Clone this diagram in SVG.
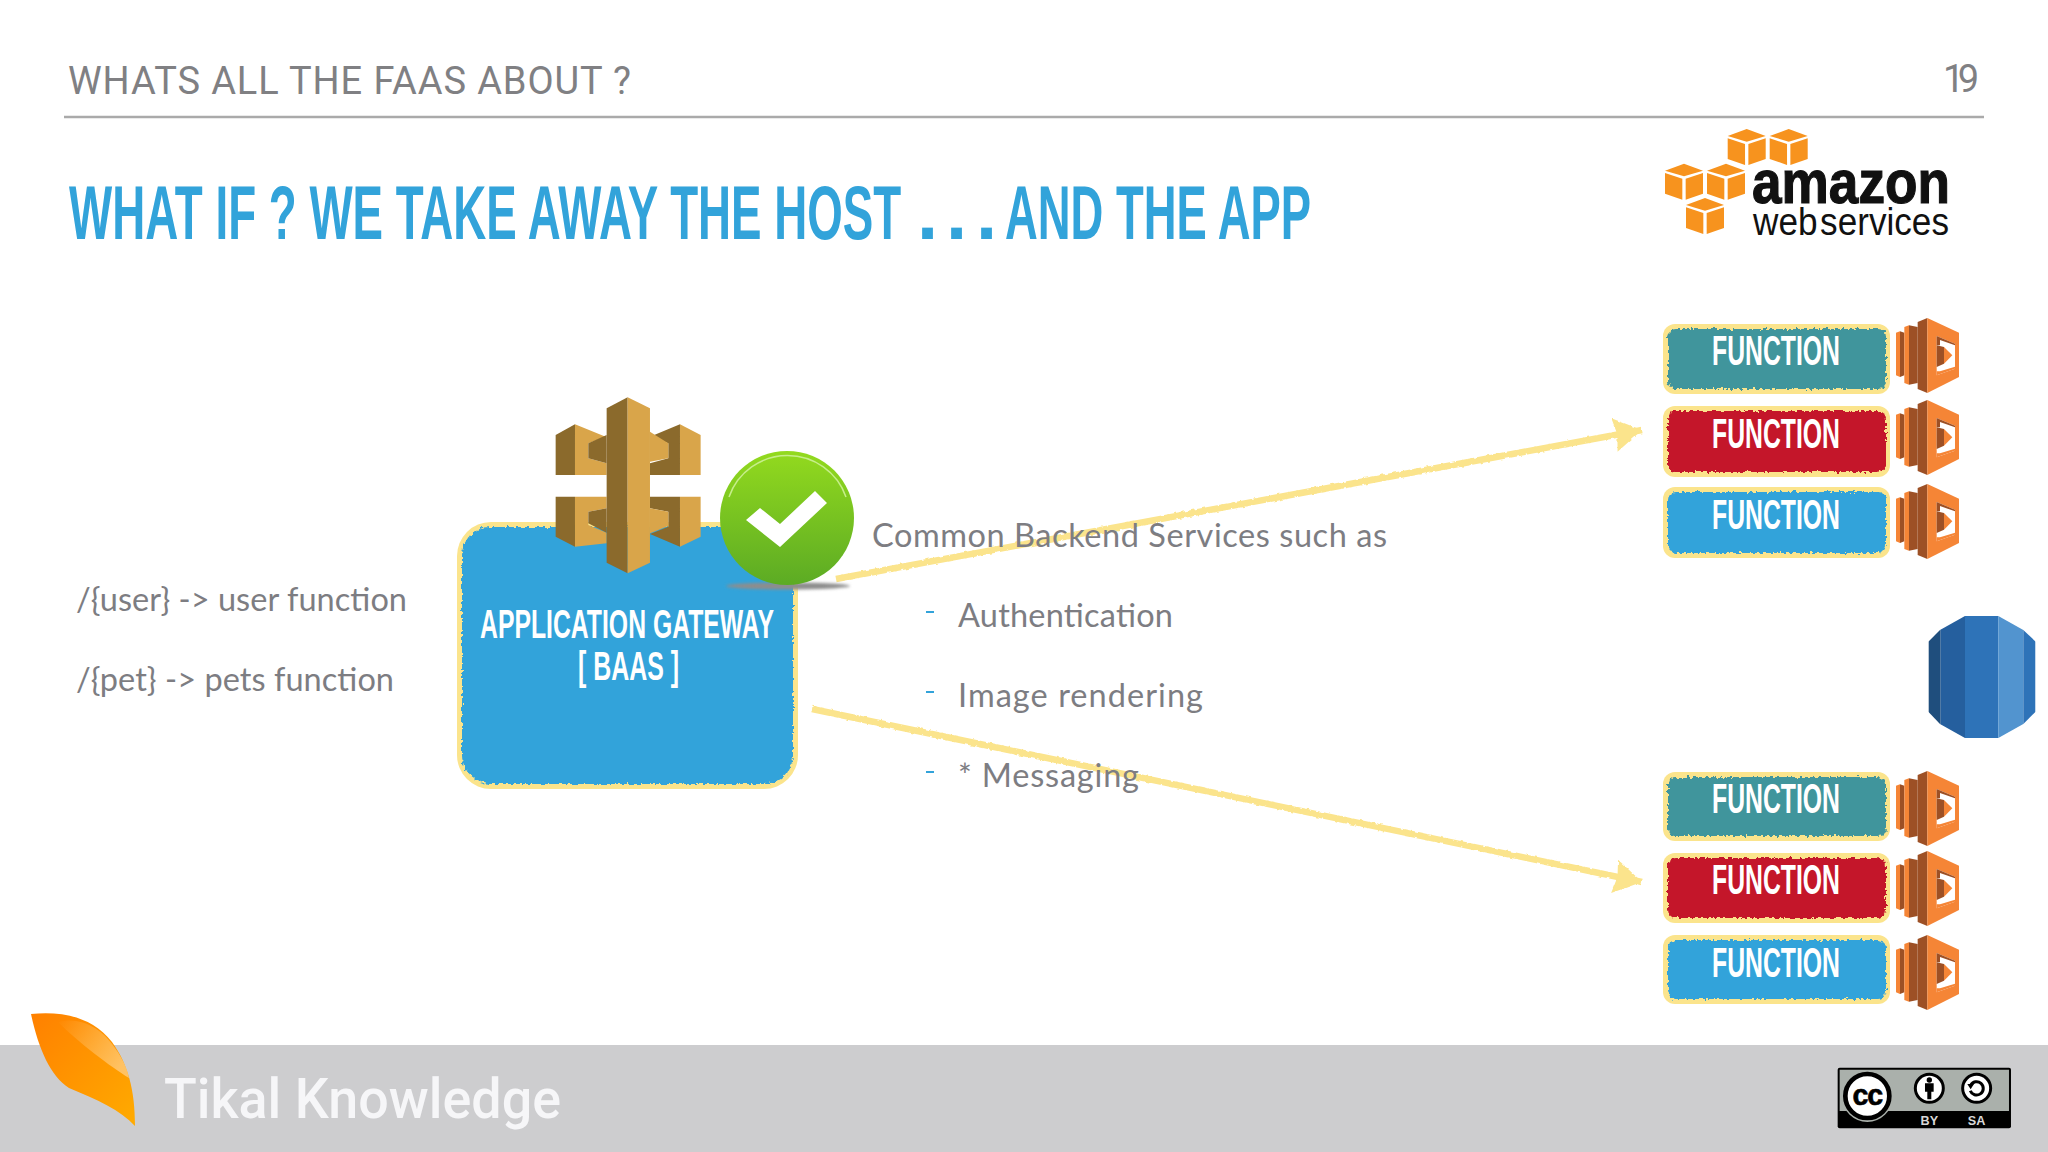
<svg xmlns="http://www.w3.org/2000/svg" width="2048" height="1152" viewBox="0 0 2048 1152">
<style>
.hd{font-family:"Roboto","Liberation Sans",sans-serif;font-size:38px;fill:#808083}
.ttl{font-family:"Liberation Sans Narrow","Liberation Sans",sans-serif;font-weight:700;font-size:76px;fill:#32a3da}
.body{font-family:"Lato","Open Sans",sans-serif;font-size:32.5px;fill:#7d7d82}
.cond{font-family:"Liberation Sans Narrow","Liberation Sans",sans-serif;font-weight:700;fill:#fff}
.fn{font-size:43px}
.gw{font-size:40px}
.rim{fill:#fbe48c}
.teal{fill:#3f959c}.red{fill:#c4172c}.blue{fill:#32a3da}
.o{fill:#f7931e}
.db{fill:#8b6a2c}.lt{fill:#d9a54a}
.lo{fill:#f58536}.ld{fill:#9d5025}
.conn{stroke:#fbe48c;stroke-width:6.5;fill:none}
</style>
<defs>
<filter id="rough" x="-5%" y="-5%" width="110%" height="110%"><feTurbulence type="fractalNoise" baseFrequency="0.3" numOctaves="2" seed="4"/><feDisplacementMap in="SourceGraphic" scale="6" xChannelSelector="R" yChannelSelector="G"/></filter>
<filter id="rough2" x="-5%" y="-5%" width="110%" height="110%"><feTurbulence type="fractalNoise" baseFrequency="0.2" numOctaves="2" seed="8"/><feDisplacementMap in="SourceGraphic" scale="3" xChannelSelector="R" yChannelSelector="G"/></filter>
<filter id="soft" x="-20%" y="-200%" width="140%" height="500%"><feGaussianBlur stdDeviation="1.5"/></filter>
<linearGradient id="gr" x1="0" y1="0" x2="0" y2="1"><stop offset="0" stop-color="#93da1e"/><stop offset="1" stop-color="#5cab24"/></linearGradient>
<linearGradient id="leaf" x1="0" y1="0" x2="1" y2="1"><stop offset="0" stop-color="#ff8000"/><stop offset="1" stop-color="#ffab00"/></linearGradient>
<linearGradient id="leafhi" x1="0" y1="0" x2="1" y2="0.6"><stop offset="0" stop-color="#ffc878" stop-opacity="0"/><stop offset="1" stop-color="#ffcb7c"/></linearGradient>
<marker id="head" markerUnits="userSpaceOnUse" markerWidth="34" markerHeight="36" refX="28" refY="17" orient="auto"><path d="M0,0 L28,17 L0,34 L3,17 Z" fill="#fbe48c"/></marker>
<g id="cube">
<polygon class="o" points="57,0 114,21 57,38 0,21"/>
<polygon class="o" points="0,28 52,45 52,108 0,90"/>
<polygon class="o" points="62,45 114,28 114,90 62,108"/>
</g>
<g id="lambda" transform="scale(.3333)">
<polygon class="lo" points="0,44 12,40 12,177 0,172"/>
<polygon class="ld" points="12,40 25,44 25,172 12,177"/>
<polygon class="lo" points="25,27 39,22 39,200 25,195"/>
<polygon class="ld" points="39,22 65,27 65,195 39,200"/>
<polygon class="ld" points="65,12 94,0 94,225 65,213"/>
<polygon class="lo" points="94,0 189,44 189,177 94,225"/>
<polygon fill="#fff" points="122,54 177,77 177,152 122,172"/>
<polygon class="ld" points="122,54 177,77 177,82 132,66 132,82 122,82"/>
<polygon class="lo" points="122,172 177,152 177,146 132,160 122,160"/>
<polygon class="ld" points="122,82 144,87 144,137 122,147"/>
<polygon class="lo" points="144,87 169,112 144,137"/>
</g>
</defs>

<rect width="2048" height="1152" fill="#fff"/>

<g id="header">
<text class="hd" x="68" y="94" textLength="563">WHATS ALL THE FAAS ABOUT ?</text>
<text class="hd" x="1943" y="92" textLength="36">19</text>
<line x1="64" y1="117" x2="1984" y2="117" stroke="#aaaaaa" stroke-width="2.5"/>
<text class="ttl" y="239"><tspan x="69" textLength="845" lengthAdjust="spacingAndGlyphs">WHAT IF ? WE TAKE AWAY THE HOST </tspan><tspan x="917 932 946 961 976">. . . </tspan><tspan x="1005" textLength="306" lengthAdjust="spacingAndGlyphs">AND THE APP</tspan></text>
</g>

<g id="connectors" filter="url(#rough2)">
<line class="conn" x1="836" y1="579" x2="1642" y2="430" marker-end="url(#head)"/>
<line class="conn" x1="812" y1="709" x2="1642" y2="882" marker-end="url(#head)"/>
</g>

<g id="routes">
<text class="body" x="76" y="611" textLength="331">/{user} -&gt; user function</text>
<text class="body" x="76" y="691" textLength="318">/{pet} -&gt; pets function</text>
</g>

<g id="services">
<text class="body" x="872" y="547" textLength="515">Common Backend Services such as</text>
<rect x="926" y="611" width="8" height="2" fill="#32a3da"/>
<text class="body" x="958" y="627" textLength="215">Authentication</text>
<rect x="926" y="691" width="8" height="2" fill="#32a3da"/>
<text class="body" x="958" y="707" textLength="245">Image rendering</text>
<rect x="926" y="771" width="8" height="2" fill="#32a3da"/>
<text class="body" x="958" y="787" textLength="181">* Messaging</text>
</g>

<g id="aws-logo">
<use href="#cube" transform="translate(1727.7,129) scale(.3333)"/>
<use href="#cube" transform="translate(1769.7,129) scale(.3333)"/>
<use href="#cube" transform="translate(1665,163.7) scale(.3333)"/>
<use href="#cube" transform="translate(1707,163.7) scale(.3333)"/>
<use href="#cube" transform="translate(1686,198) scale(.3333)"/>
<text x="1752" y="203" font-family="Liberation Sans,sans-serif" font-weight="700" font-size="62" fill="#111" stroke="#111" stroke-width="1.2" textLength="198" lengthAdjust="spacingAndGlyphs">amazon</text>
<text x="1753" y="235" font-family="Liberation Sans,sans-serif" font-size="39" fill="#111" word-spacing="-8" textLength="196" lengthAdjust="spacingAndGlyphs">web services</text>
</g>

<g id="gateway">
<rect class="rim" x="457" y="522" width="341" height="267" rx="34"/>
<rect class="blue" x="462" y="527" width="331" height="257" rx="28" filter="url(#rough)"/>
<text class="cond gw" x="480" y="638" textLength="294" lengthAdjust="spacingAndGlyphs">APPLICATION GATEWAY</text>
<text class="cond gw" x="578" y="680" textLength="101" lengthAdjust="spacingAndGlyphs">[ BAAS ]</text>
</g>

<g id="api-icon" transform="translate(440,380) scale(.3333)">
<polygon class="db" points="347,165 405,133 405,285 347,285"/>
<polygon class="lt" points="405,133 497,170 445,190 445,235 500,250 500,285 405,285"/>
<polygon class="db" points="445,190 500,165 500,250 445,235"/>
<polygon class="lt" points="720,133 782,165 782,285 720,285"/>
<polygon class="db" points="720,133 630,170 685,190 685,235 630,250 630,285 720,285"/>
<polygon class="lt" points="630,155 685,190 685,235 630,245"/>
<polygon class="db" points="347,350 405,350 405,500 347,470"/>
<polygon class="lt" points="405,350 500,350 500,385 445,395 445,435 500,458 500,490 405,500"/>
<polygon class="db" points="445,395 500,385 500,458 445,430"/>
<polygon class="lt" points="720,350 782,350 782,470 720,500"/>
<polygon class="db" points="630,350 720,350 720,500 630,462 685,440 685,395 630,385"/>
<polygon class="lt" points="630,385 685,395 685,438 630,460"/>
<polygon class="db" points="500,85 563,52 563,580 500,548"/>
<polygon class="lt" points="563,52 630,85 630,548 563,580"/>
</g>

<g id="check">
<ellipse cx="788" cy="586" rx="62" ry="3.5" fill="#8d8d8d" filter="url(#soft)"/>
<circle cx="787" cy="518" r="67" fill="url(#gr)"/>
<path d="M729,497 A62,62 0 0 1 846,497" fill="none" stroke="#c6ee8a" stroke-width="1.5"/>
<polygon fill="#fff" points="746,520 760,508 780,524 815,491 827,503 780,547"/>
</g>

<g id="fn1"><rect class="rim" x="1663" y="324" width="227" height="70" rx="12"/><rect class="teal" x="1668" y="329" width="218" height="60" rx="8" filter="url(#rough)"/><text class="cond fn" x="1712" y="365" textLength="128" lengthAdjust="spacingAndGlyphs">FUNCTION</text><use href="#lambda" transform="translate(1896,318)"/></g>
<g id="fn2"><rect class="rim" x="1663" y="406" width="227" height="71" rx="12"/><rect class="red" x="1668" y="411" width="218" height="61" rx="8" filter="url(#rough)"/><text class="cond fn" x="1712" y="448" textLength="128" lengthAdjust="spacingAndGlyphs">FUNCTION</text><use href="#lambda" transform="translate(1896,400)"/></g>
<g id="fn3"><rect class="rim" x="1663" y="487" width="227" height="71" rx="12"/><rect class="blue" x="1668" y="492" width="218" height="61" rx="8" filter="url(#rough)"/><text class="cond fn" x="1712" y="529" textLength="128" lengthAdjust="spacingAndGlyphs">FUNCTION</text><use href="#lambda" transform="translate(1896,484)"/></g>

<g id="rds" transform="translate(1880,600) scale(.3333)">
<clipPath id="dbclip"><polygon points="145,125 180,90 255,48 355,48 430,90 467,125 467,335 430,372 355,414 255,414 180,372 145,335"/></clipPath>
<g clip-path="url(#dbclip)">
<rect x="145" y="40" width="37" height="380" fill="#1f4e7d"/>
<rect x="182" y="40" width="73" height="380" fill="#255f9e"/>
<rect x="255" y="40" width="100" height="380" fill="#2e73b8"/>
<rect x="355" y="40" width="75" height="380" fill="#5294cf"/>
<rect x="430" y="40" width="37" height="380" fill="#2e73b8"/>
</g>
</g>

<g id="fn4"><rect class="rim" x="1663" y="772" width="227" height="69" rx="12"/><rect class="teal" x="1668" y="777" width="218" height="59" rx="8" filter="url(#rough)"/><text class="cond fn" x="1712" y="813" textLength="128" lengthAdjust="spacingAndGlyphs">FUNCTION</text><use href="#lambda" transform="translate(1896,771)"/></g>
<g id="fn5"><rect class="rim" x="1663" y="853" width="227" height="70" rx="12"/><rect class="red" x="1668" y="858" width="218" height="60" rx="8" filter="url(#rough)"/><text class="cond fn" x="1712" y="894" textLength="128" lengthAdjust="spacingAndGlyphs">FUNCTION</text><use href="#lambda" transform="translate(1896,851)"/></g>
<g id="fn6"><rect class="rim" x="1663" y="935" width="227" height="69" rx="12"/><rect class="blue" x="1668" y="940" width="218" height="59" rx="8" filter="url(#rough)"/><text class="cond fn" x="1712" y="977" textLength="128" lengthAdjust="spacingAndGlyphs">FUNCTION</text><use href="#lambda" transform="translate(1896,935)"/></g>

<g id="footer">
<rect x="0" y="1045" width="2048" height="107" fill="#cdcdcf"/>
<path d="M31,1014 C60,1011 92,1016 112,1042 C128,1064 135,1090 135,1126 C120,1110 98,1100 69,1088 C50,1076 38,1047 31,1014 Z" fill="url(#leaf)"/>
<path d="M58,1022 C80,1016 102,1028 115,1048 C124,1060 128,1072 129,1078 C110,1066 80,1044 58,1022 Z" fill="url(#leafhi)" opacity=".8"/>
<text x="164" y="1118" font-family="Roboto,Liberation Sans,sans-serif" font-weight="500" font-size="56" fill="#f6f6f8" textLength="397" lengthAdjust="spacingAndGlyphs">Tikal Knowledge</text>
</g>

<g id="cc-badge" transform="translate(1820,1060) scale(.3333)">
<rect x="53" y="23" width="520" height="182" rx="6" fill="#000"/>
<path d="M59,29 H567 V153 H59 Z" fill="#aab0ab"/>
<circle cx="142" cy="110" r="76" fill="#aab0ab"/>
<circle cx="142" cy="108" r="66" fill="#fff" stroke="#000" stroke-width="14"/>
<text x="142" y="134" text-anchor="middle" font-family="Liberation Sans,sans-serif" font-weight="700" font-size="86" letter-spacing="-3" fill="#000" stroke="#000" stroke-width="2">cc</text>
<circle cx="328" cy="85" r="42" fill="#fff" stroke="#000" stroke-width="9"/>
<circle cx="328" cy="60" r="8" fill="#000"/>
<path d="M315,70 H341 V95 H334 V118 H322 V95 H315 Z" fill="#000"/>
<circle cx="470" cy="85" r="42" fill="#fff" stroke="#000" stroke-width="9"/>
<path d="M451,92 A20,20 0 1 0 452,76" fill="none" stroke="#000" stroke-width="9"/>
<polygon points="442,72 462,72 452,88" fill="#000"/>
<text x="328" y="194" text-anchor="middle" font-family="Liberation Sans,sans-serif" font-weight="700" font-size="38" fill="#d8d8d8">BY</text>
<text x="470" y="194" text-anchor="middle" font-family="Liberation Sans,sans-serif" font-weight="700" font-size="38" fill="#d8d8d8">SA</text>
</g>
</svg>
